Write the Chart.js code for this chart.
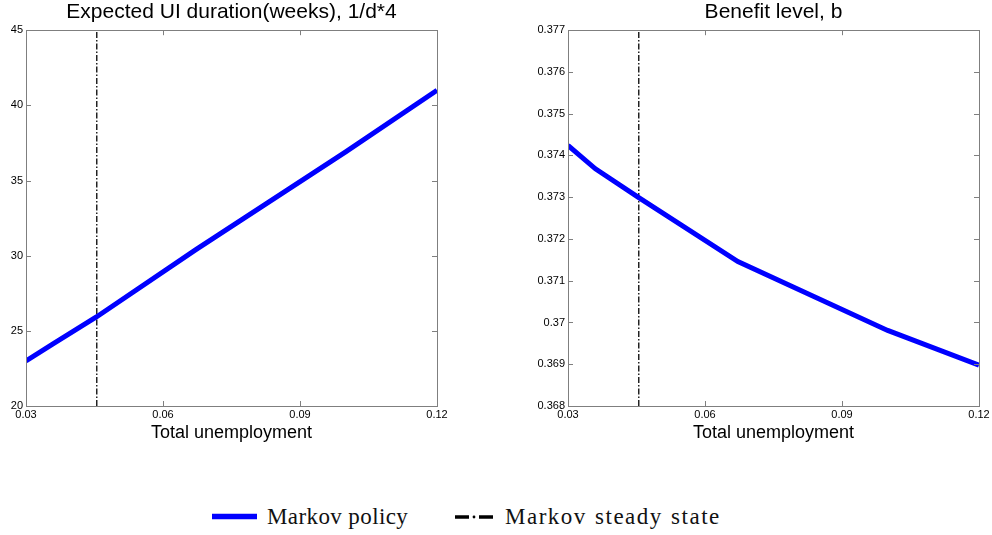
<!DOCTYPE html>
<html>
<head>
<meta charset="utf-8">
<script src="https://cdn.jsdelivr.net/npm/chart.js@4/dist/chart.umd.min.js"></script>
<style>
  html, body { margin: 0; padding: 0; background: #fff; }
  #wrap { position: relative; width: 992px; height: 535px; overflow: hidden; }
  canvas { position: absolute; top: 0; }
  #cDur { left: 0; }
  #cBen { left: 530px; }
  .leg { position: absolute; top: 504px; line-height: 26px; font-family: "Liberation Serif", "Times New Roman", serif; font-size: 23px; letter-spacing: 0.4px; color: #111; white-space: nowrap; }
  .leg.wide { letter-spacing: 1.5px; word-spacing: 1px; }
  .sw { position: absolute; top: 510px; }
</style>
</head>
<body>
<div id="wrap">
  <canvas id="cDur" width="450" height="446"></canvas>
  <canvas id="cBen" width="462" height="446"></canvas>
  <svg class="sw" style="left:210px" width="50" height="14"><line x1="2" y1="6.5" x2="47" y2="6.5" stroke="#0000ff" stroke-width="5.5"/></svg>
  <span class="leg" style="left:267px">Markov policy</span>
  <svg class="sw" style="left:452px" width="44" height="14">
    <line x1="3" y1="7" x2="17" y2="7" stroke="#000" stroke-width="3.5"/>
    <circle cx="22" cy="7" r="1.4" fill="#000"/>
    <line x1="27" y1="7" x2="41" y2="7" stroke="#000" stroke-width="3.5"/>
  </svg>
  <span class="leg wide" style="left:505px">Markov steady state</span>
</div>
<script>
// Total unemployment grid and policy values
const unemployment = [0.03, 0.036, 0.0455, 0.0672, 0.1, 0.12];
const uiDurationWeeks = [23.0, 24.15, 25.94, 30.4, 36.9, 41.0];
const benefitLevel = [0.37424, 0.37368, 0.37299, 0.37146, 0.36981, 0.36898];
const steadyStateU = 0.0455;

// Tick labels
const xTicks = [0.03, 0.06, 0.09, 0.12];
const durTicks = [20, 25, 30, 35, 40, 45];
const benTicks = [0.368, 0.369, 0.37, 0.371, 0.372, 0.373, 0.374, 0.375, 0.376, 0.377];

// Frame around the plot area with inward tick marks on all four sides
const boxTicks = {
  id: 'boxTicks',
  afterDatasetsDraw(chart) {
    const {ctx, chartArea: a, scales} = chart;
    const len = 5;
    ctx.save();
    ctx.strokeStyle = '#7f7f7f';
    ctx.lineWidth = 1;
    ctx.beginPath();
    scales.x.ticks.forEach(t => {
      const px = Math.round(scales.x.getPixelForValue(t.value)) + 0.5;
      ctx.moveTo(px, a.bottom); ctx.lineTo(px, a.bottom - len);
      ctx.moveTo(px, a.top); ctx.lineTo(px, a.top + len);
    });
    scales.y.ticks.forEach(t => {
      const py = Math.round(scales.y.getPixelForValue(t.value)) + 0.5;
      ctx.moveTo(a.left, py); ctx.lineTo(a.left + len, py);
      ctx.moveTo(a.right, py); ctx.lineTo(a.right - len, py);
    });
    ctx.stroke();
    ctx.strokeRect(Math.round(a.left) + 0.5, Math.round(a.top) + 0.5,
                   Math.round(a.right - a.left), Math.round(a.bottom - a.top));
    ctx.restore();
  }
};

const sans = '"Liberation Sans", Arial, sans-serif';
const tickFont = { family: sans, size: 11 };

function makeChart(id, title, values, yMin, yMax, yTickVals, yAxisWidth) {
  const policy = unemployment.map((u, i) => ({ x: u, y: values[i] }));
  const steady = [{ x: steadyStateU, y: yMin }, { x: steadyStateU, y: yMax }];
  return new Chart(document.getElementById(id), {
    type: 'scatter',
    data: {
      datasets: [
        { label: 'Markov policy', data: policy, showLine: true, borderColor: '#0000ff',
          borderWidth: 5, pointRadius: 0, tension: 0 },
        { label: 'Markov steady state', data: steady, showLine: true, borderColor: '#000',
          borderWidth: 1.3, borderDash: [6, 2, 1.5, 2], pointRadius: 0 }
      ]
    },
    options: {
      responsive: false,
      animation: false,
      devicePixelRatio: 1,
      layout: { padding: { left: 0, right: 13, top: 0, bottom: 0 } },
      plugins: {
        legend: { display: false },
        tooltip: { enabled: false },
        title: {
          display: true, text: title, color: '#000', fullSize: false,
          font: { family: sans, size: 21, weight: 'normal' },
          padding: { top: 0, bottom: 5 }
        }
      },
      scales: {
        x: {
          type: 'linear', min: 0.03, max: 0.12,
          grid: { display: false, drawTicks: false },
          border: { display: false },
          afterBuildTicks: s => { s.ticks = xTicks.map(v => ({ value: v })); },
          afterFit: s => { s.height = 40; },
          ticks: { color: '#000', font: tickFont, padding: 2, maxRotation: 0,
                   callback: v => v.toFixed(2) },
          title: { display: true, text: 'Total unemployment', color: '#000',
                   font: { family: sans, size: 18 },
                   padding: { top: 0, bottom: 2 } }
        },
        y: {
          type: 'linear', min: yMin, max: yMax,
          grid: { display: false, drawTicks: false },
          border: { display: false },
          afterBuildTicks: s => { s.ticks = yTickVals.map(v => ({ value: v })); },
          afterFit: s => { s.width = yAxisWidth; },
          ticks: { color: '#000', font: tickFont, padding: 3,
                   callback: v => String(Number(v.toFixed(4))) }
        }
      }
    },
    plugins: [boxTicks]
  });
}

makeChart('cDur', 'Expected UI duration(weeks), 1/d*4', uiDurationWeeks, 20, 45, durTicks, 26);
makeChart('cBen', 'Benefit level, b', benefitLevel, 0.368, 0.377, benTicks, 38);
</script>
</body>
</html>
